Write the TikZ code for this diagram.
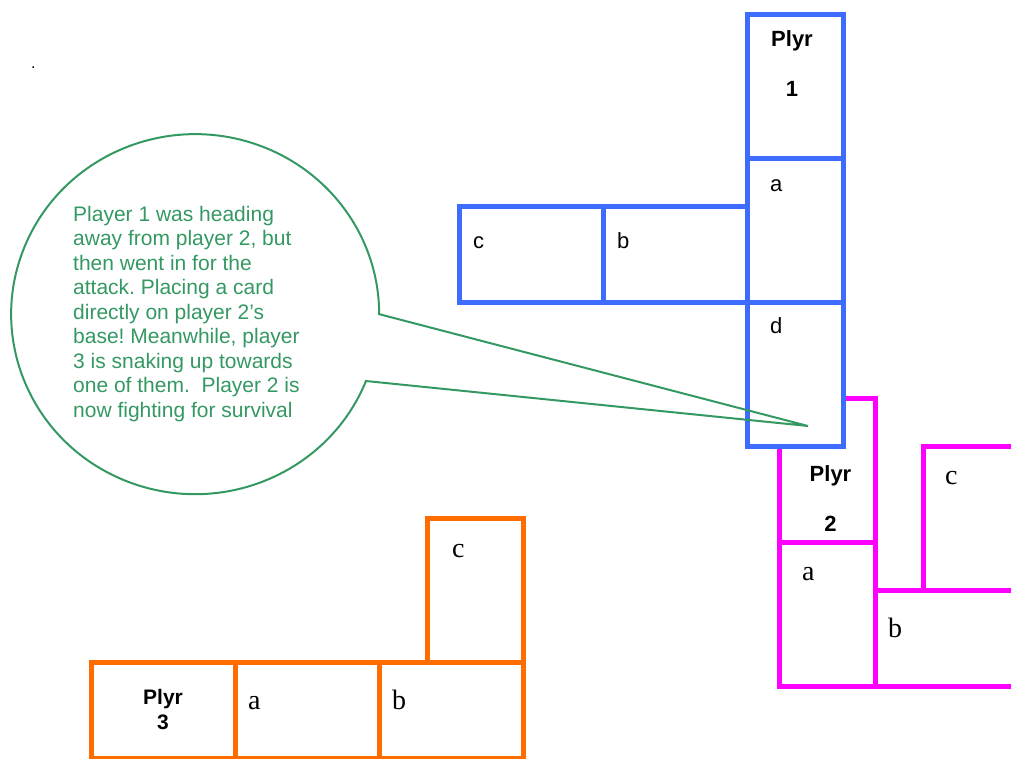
\documentclass[tikz,border=0pt]{standalone}
\usepackage{fontspec}
\setmainfont{Liberation Sans}
\newfontfamily\cardserif{Liberation Serif}
\definecolor{pblue}{RGB}{61,108,255}
\definecolor{pmagenta}{RGB}{255,0,255}
\definecolor{porange}{RGB}{255,109,1}
\definecolor{notegreen}{RGB}{52,152,98}
\frenchspacing
\begin{document}
\begin{tikzpicture}[x=1pt,y=-1pt,
  card/.style={draw, line width=5pt, fill=white, inner sep=0pt},
  upright/.style={card, minimum width=96pt, minimum height=144pt},
  sideways/.style={card, minimum width=144pt, minimum height=96pt},
  bluecard/.style={draw=pblue},
  magentacard/.style={draw=pmagenta},
  orangecard/.style={draw=porange},
  sanslabel/.style={anchor=base west, inner sep=0pt, font=\fontsize{22}{26}\selectfont},
  seriflabel/.style={anchor=base west, inner sep=0pt, font=\cardserif\fontsize{28}{32}\selectfont},
  % multi-line nodes: the base anchor sits on the last line
  playername/.style={anchor=base, inner sep=0pt, align=center, font=\bfseries\fontsize{22}{50}\selectfont},
  notetext/.style={anchor=base west, inner sep=0pt, align=left, text=notegreen, font=\fontsize{21}{24.5}\selectfont},
  noteline/.style={draw=notegreen, line width=2pt, line join=miter}
]
\useasboundingbox (0,0) rectangle (1011,758);
\clip (0,0) rectangle (1011,758);

% stray full stop in the corner
\node[anchor=base west, inner sep=0pt, font=\fontsize{16}{18}\selectfont] (dot) at (31,68) {.};

% player 3 (orange)
\node[upright, orangecard] (oc) at (475,590.5) {};
\node[sideways, orangecard] (op) at (163,710.5) {};
\node[sideways, orangecard] (oa) at (307,710.5) {};
\node[sideways, orangecard] (ob) at (451,710.5) {};
\node[seriflabel] (oclab) at (452,557) {c};
\node[seriflabel] (oalab) at (248,709) {a};
\node[seriflabel] (oblab) at (392,709) {b};
\node[playername, font=\bfseries\fontsize{21}{25}\selectfont] (oplab) at (163,729) {Plyr\\3};

% player 2 (magenta)
\node[upright, magentacard] (mp) at (827,470.5) {};
\node[upright, magentacard] (ma) at (827,614.5) {};
\node[sideways, magentacard] (mb) at (947,638.5) {};
\node[upright, magentacard] (mc) at (971,518.5) {};
\node[seriflabel] (malab) at (802,580) {a};
\node[seriflabel] (mblab) at (888,637) {b};
\node[seriflabel] (mclab) at (945,484) {c};
\node[playername] (mplab) at (830.5,531) {Plyr\\2};

% player 1 (blue), laid over player 2's base
\node[upright, bluecard] (bp) at (795.5,86.5) {};
\node[upright, bluecard] (ba) at (795.5,230.5) {};
\node[upright, bluecard] (bd) at (795.5,374.5) {};
\node[sideways, bluecard] (bb) at (675.5,254.5) {};
\node[sideways, bluecard] (bc) at (531.5,254.5) {};
\node[sanslabel] (balab) at (770,191) {a};
\node[sanslabel] (bdlab) at (770,333) {d};
\node[sanslabel] (bblab) at (617,248) {b};
\node[sanslabel] (bclab) at (473,248) {c};
\node[playername] (bplab) at (792,96.7) {Plyr\\1};

% speech bubble pointing at player 1's card d
\coordinate (tip) at (808,426);
\draw[noteline] (366,381) arc[start angle=21.8, end angle=360, x radius=184, y radius=180] -- (tip) -- cycle;
\node[notetext] (note) at (73,417) {Player 1 was heading\\away from player 2, but\\then went in for the\\attack. Placing a card\\directly on player 2’s\\base! Meanwhile, player\\3 is snaking up towards\\one of them.\ \ Player 2 is\\now fighting for survival};
\end{tikzpicture}
\end{document}
